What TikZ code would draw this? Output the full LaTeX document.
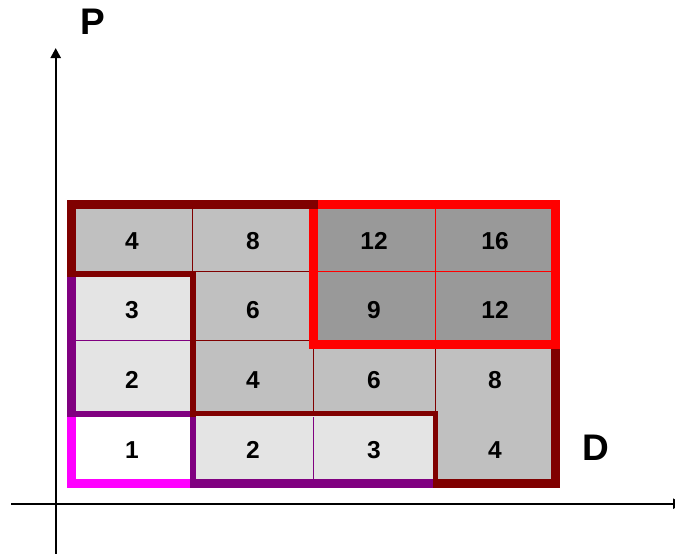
\documentclass[tikz,border=0pt]{standalone}
\usepackage{fontspec}
\setmainfont{Liberation Sans}
\usetikzlibrary{arrows.meta}
\definecolor{cLight}{HTML}{E4E4E4}
\definecolor{cMid}{HTML}{C0C0C0}
\definecolor{cDark}{HTML}{999999}
\definecolor{cMaroon}{HTML}{800000}
\definecolor{cPurple}{HTML}{800080}
\definecolor{cMagenta}{HTML}{FF00FF}
\definecolor{cRed}{HTML}{FF0000}
\tikzset{
  num/.style={font=\bfseries\fontsize{24.5}{24.5}\selectfont, text=black, inner sep=0pt},
  axlabel/.style={font=\bfseries\fontsize{37}{37}\selectfont, text=black, inner sep=0pt},
  thin/.style={line width=1pt, line cap=butt},
  axis/.style={line width=2.3pt, -{Triangle[length=10pt,width=10pt]}},
}
\begin{document}
\begin{tikzpicture}[x=1pt,y=-1pt]
\useasboundingbox (0,0) rectangle (675,554);
% cell fills
\fill[cMid]   (71.5,204.5) rectangle (193,273.5);
\fill[cMid]   (193,204.5) rectangle (313.5,273.5);
\fill[cDark]  (313.5,204.5) rectangle (555.5,344);
\fill[cLight] (71.5,273.5) rectangle (193,414);
\fill[cMid]   (193,273.5) rectangle (313.5,414);
\fill[cMid]   (313.5,344) rectangle (555.5,414);
\fill[white]  (71.5,414) rectangle (193,483.5);
\fill[cLight] (193,414) rectangle (435,483.5);
\fill[cMid]   (435,414) rectangle (555.5,483.5);
% thin lines
\draw[thin,cMaroon] (192.3,209) -- (192.3,271);
\draw[thin,cMaroon] (196,271) -- (309,271);
\draw[thin,cMaroon] (196,340.5) -- (309,340.5);
\draw[thin,cMaroon] (313.3,349) -- (313.3,411);
\draw[thin,cMaroon] (435.3,349) -- (435.3,411);
\draw[thin,cPurple] (75,340.3) -- (190,340.3);
\draw[thin,cPurple] (313.3,417) -- (313.3,479);
\draw[thin,cRed] (318,271.3) -- (551,271.3);
\draw[thin,cRed] (435.3,209) -- (435.3,340);
% purple border
\draw[cPurple,line width=8.5pt] (71.5,277) -- (71.5,417);
\draw[cPurple,line width=6pt] (67,414) -- (190,414);
\draw[cPurple,line width=6pt] (193,417) -- (193,488);
\draw[cPurple,line width=8.5pt] (190,483.5) -- (433,483.5);
% magenta border
\draw[cMagenta,line width=8.5pt] (71.5,417) -- (71.5,488);
\draw[cMagenta,line width=8.5pt] (67,483.5) -- (190,483.5);
% maroon border
\draw[cMaroon,line width=8.5pt] (71.5,200) -- (71.5,277);
\draw[cMaroon,line width=6pt] (67,274) -- (196,274);
\draw[cMaroon,line width=6pt] (193,271) -- (193,417);
\draw[cMaroon,line width=5.5pt] (190,413.5) -- (438,413.5);
\draw[cMaroon,line width=5pt] (435.3,411) -- (435.3,481);
\draw[cMaroon,line width=9pt] (433,483.5) -- (560,483.5);
\draw[cMaroon,line width=9pt] (555.5,344) -- (555.5,488);
% red border
\draw[cRed,line width=9pt,line join=miter] (313.5,204.5) rectangle (555.5,344.5);
\draw[cMaroon,line width=9pt] (67,204.5) -- (318,204.5);
% numbers
\node[num] (n41) at (132,241) {4};
\node[num] (n42) at (253,241) {8};
\node[num] (n43) at (374,241) {12};
\node[num] (n44) at (495,241) {16};
\node[num] (n31) at (132,310) {3};
\node[num] (n32) at (253,310) {6};
\node[num] (n33) at (374,310) {9};
\node[num] (n34) at (495,310) {12};
\node[num] (n21) at (132,380) {2};
\node[num] (n22) at (253,380) {4};
\node[num] (n23) at (374,380) {6};
\node[num] (n24) at (495,380) {8};
\node[num] (n11) at (132,450) {1};
\node[num] (n12) at (253,450) {2};
\node[num] (n13) at (374,450) {3};
\node[num] (n14) at (495,450) {4};
% axes
\coordinate (xs) at (11,503.7);
\coordinate (xe) at (683,503.7);
\coordinate (ys) at (55.7,554);
\coordinate (ye) at (55.7,48);
\draw[axis] (xs) -- (xe);
\draw[axis] (ys) -- (ye);
\node[axlabel] (lp) at (93,22) {P};
\node[axlabel] (ld) at (596,448) {D};
\end{tikzpicture}
\end{document}
